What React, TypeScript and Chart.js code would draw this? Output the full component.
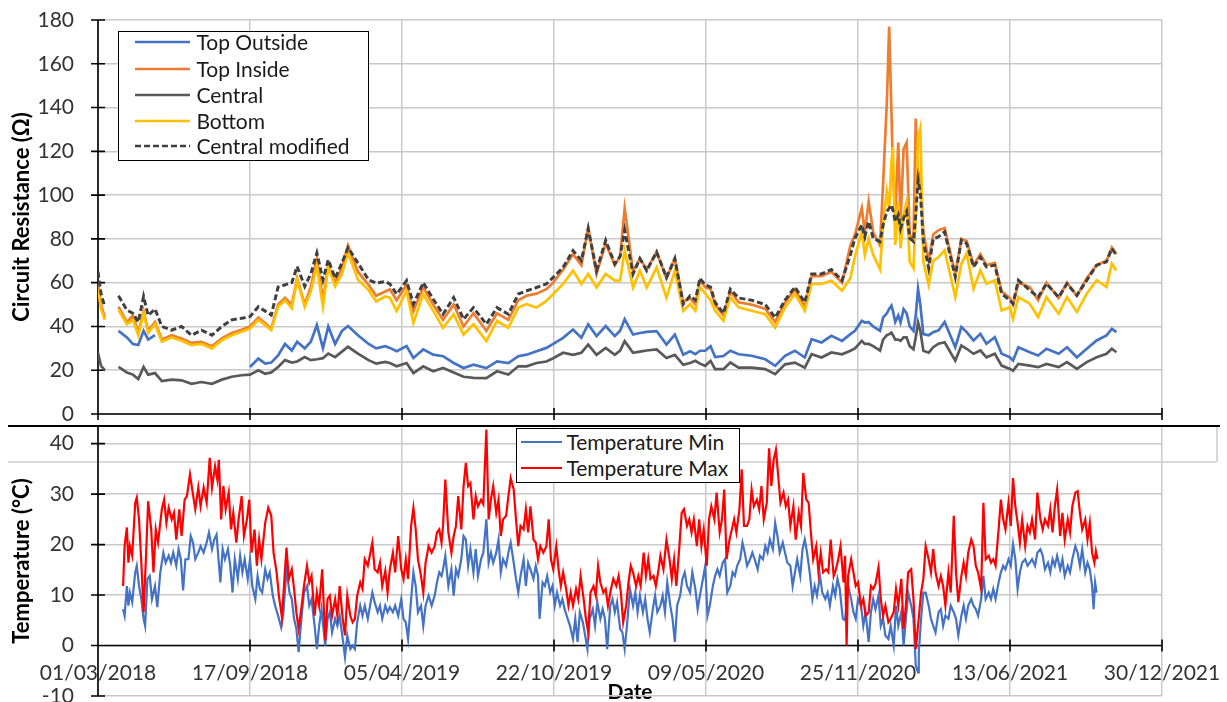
import React, { useEffect, useRef } from "react";
import { Chart, registerables } from "chart.js";

Chart.register(...registerables);

const FONT = "Lato, 'Noto Sans', sans-serif";
const GRID = "#c9c9c9";
const TICK_COLOR = "#333333";

// x axis: days since 01/03/2018, a tick every 200 days
const X_TICK_LABELS = [
  "01/03/2018", "17/09/2018", "05/04/2019", "22/10/2019",
  "09/05/2020", "25/11/2020", "13/06/2021", "30/12/2021",
];
const X_STEP_DAYS = 200;
const X_MAX_DAY = 1400;

// ---------- Circuit resistance (Ω) ----------
const resDays = [
  0, 4, 9, 18, 27, 38, 46, 53, 60, 66, 75, 84, 97, 110, 123, 136, 150, 163, 176, 189,
  200, 211, 220, 228, 237, 246, 255, 262, 272, 280, 288, 296, 303, 312, 321, 329, 342, 356, 366, 378,
  384, 393, 406, 415, 428, 441, 454, 468, 481, 494, 511, 525, 540, 553, 564, 577, 590, 599, 612, 625,
  636, 645, 656, 668, 680, 687, 693, 704, 713, 722, 735, 748, 759, 770,
  779, 786, 792, 799, 806, 812, 823, 832, 843, 860, 878, 891, 904, 917, 930, 939, 952, 965, 979, 990,
  996, 1005, 1009, 1014, 1020, 1029, 1033, 1038, 1041, 1044, 1046, 1049, 1053, 1056, 1060, 1064, 1068, 1073, 1076, 1079,
  1082, 1086, 1093,
  1099, 1106, 1114, 1128, 1136, 1143, 1152, 1161, 1169, 1180, 1189, 1200, 1204, 1211, 1226, 1237, 1248, 1264, 1275, 1288,
  1301, 1314, 1327, 1334, 1340,
];

const topOutside = [
  null, null, null, null, 38, 35, 32, 31.5, 38, 34, 36, null, null, null, null, null, null, null, null, null,
  21.5, 25.3, 23, 23.5, 26.8, 32, 29, 33, 30, 33, 40.6, 30, 40, 32, 38, 40.2, 36, 32, 30, 31,
  30.2, 28.7, 31, 25.6, 29.5, 27.1, 26.4, 23.3, 21, 22.5, 21, 24, 23.3, 26.4, 27.1, 28.7, 30.2, 32, 34.8, 38.6,
  34.8, 41, 35.6, 40.2, 35.6, 38, 43.3, 36.3, 37, 37.5, 37.9, 31.7, 36.3, 27.1,
  28.7, 27.3, 28.9, 28.9, 31, 26, 26.5, 28.9, 27.3, 26.6, 25, 22, 26.6, 28.9, 25.8, 34.2, 32.7, 35.7, 33.4, 36.5,
  38, 42.6, 41.8, 42, 40, 38, 44, 46, 48, 49.5, 47, 42, 45, 41.8, 47.9, 46, 40, 38, 45, 57.1,
  50, 36.5, 36,
  37.4, 38.2, 42, 30.5, 39.7, 37.4, 33.6, 36.6, 32.1, 35.1, 27.5, 25.9, 24.4, 30.5, 28.2, 26.7, 29.8, 27.5, 30.5, 25.9,
  29.8, 33.6, 35.9, 38.9, 37.4,
];

const topInside = [
  60, 50, 44, null, 49, 42, 45, 37, 47, 38, 42, 34, 36, 34.5, 32.5, 33, 31, 34.5, 37, 38.5,
  40, 44, 41.5, 39, 50, 53, 50, 62, 50, 58, 71, 52, 68, 60, 67, 77, 65, 59, 54, 56,
  57, 52, 59, 47, 58, 50, 43, 50, 40, 46, 38, 46, 43, 52, 54, 55, 57, 60, 66, 73,
  68, 85, 64, 78, 68, 72, 94, 65, 71, 66, 74, 62, 71, 51,
  53, 50, 61, 58, 57, 50, 45, 56, 51, 50, 48, 42, 51, 57, 49, 63, 63, 65, 60, 77,
  82, 94, 83, 97, 83, 77, 105, 143, 177, 138, 110, 91, 124, 88, 121, 124, 82, 79, 135, 106,
  110, 83, 70,
  82, 84, 85, 64, 80, 79, 68, 73, 68, 69, 56, 53, 50, 60, 58, 52, 60, 53, 60, 54,
  62, 68, 70, 76, 73,
];

const central = [
  28, 22, 20, null, 21.5, 19, 18, 16, 21.5, 18, 18.7, 15, 15.7, 15.4, 13.8, 14.6, 13.8, 15.7, 17, 17.7,
  18, 20, 18.4, 19, 21.5, 24.6, 23.5, 24, 26, 24.6, 25, 25.5, 27.6, 26, 28.5, 30.7, 27.6, 24.6, 23, 23.8,
  23.3, 21.8, 23.3, 18.7, 21.8, 19.5, 21, 19, 17, 16.5, 16.4, 19.5, 18, 21.8, 21.8, 23.3, 24, 25.5, 28, 27,
  28, 31.7, 27, 30.2, 27, 29, 33.3, 28, 28.5, 29, 29.5, 25.6, 27, 22.5,
  23.3, 24.3, 23, 22, 24.3, 20.5, 20.5, 23.5, 21.2, 21.2, 20.5, 18.2, 22.7, 23.5, 21.2, 27.3, 25.8, 28.1, 27.3, 28.9,
  30, 33.4, 32, 32, 31, 29, 34, 36, 36.5, 37.2, 36, 34, 34, 33.4, 35, 35, 31, 29.6, 35, 41.8,
  38, 28.9, 28,
  30.5, 32.1, 32.8, 24.4, 31.3, 29.8, 27.5, 29, 25.9, 27.5, 22.1, 20.6, 19.8, 22.9, 22.1, 21.4, 22.9, 21.4, 23.7, 20.6,
  23.7, 25.9, 27.5, 29.8, 28.2,
];

const bottom = [
  57, 48, 43, null, 47.5, 41, 43, 36, 46, 37, 41, 33, 35, 33.5, 31.5, 32, 30, 33.7, 36, 37.6,
  39, 43, 40.6, 38.3, 49, 52, 48.3, 61.3, 49, 56, 67.4, 49, 67.4, 58.3, 64, 73.6, 61.3, 56.7, 51.4, 53.7,
  53.2, 47.1, 56.3, 41.7, 54.8, 47.1, 39.4, 45.6, 36.3, 41, 33.3, 42.5, 39.4, 48.6, 50.2, 48.6, 51.7, 54.8, 59.4, 65.5,
  59.4, 64, 57.8, 64, 60.9, 61, 74.7, 57.8, 65.5, 57.8, 67, 53.2, 65.5, 47.1,
  50.2, 47.2, 57.9, 55, 52, 47.2, 42.6, 53.3, 48.7, 47.2, 45.6, 39.5, 48.7, 54.8, 47.2, 59.4, 59.4, 60.9, 56.3, 62,
  72, 83.3, 72.7, 80, 72.7, 66, 86.4, 101.6, 94, 115, 122, 77.2, 97, 75.7, 91, 97, 69.6, 66.6, 91, 126,
  130.5, 69.6, 59,
  70, 71.7, 74.8, 53.4, 68.7, 73.3, 57.2, 65.6, 59.5, 61.1, 47.3, 48.8, 43.5, 53.4, 50.4, 44.3, 53.4, 45.8, 53.4, 46.6,
  55, 61.1, 58, 68.7, 65.6,
];

const centralModified = [
  65, 55, 49, null, 54, 47.5, 46, 42, 53.7, 45, 48, 40, 38.3, 40, 36, 38.3, 36, 40, 43, 43.7,
  44.5, 49, 47, 45.2, 58, 59, 60, 67.4, 58.3, 64, 73.6, 61.3, 70.5, 62, 69, 76, 69, 61.3, 59.8, 60.5,
  59.4, 54.8, 60.9, 50.2, 60, 52.5, 45.6, 53.2, 43.3, 48.6, 41, 48.6, 45.6, 54.8, 56.3, 57.8, 59.4, 62.4, 67, 74.7,
  70.1, 84.7, 65.5, 79.3, 68.6, 72, 84, 64, 71, 65.5, 74, 62.4, 71, 50.2,
  54, 52, 62, 59, 58, 51, 46, 57, 53, 52, 50, 44, 52, 58, 51, 64, 64, 66, 61, 72.7,
  80.3, 86.4, 81, 87.9, 80.3, 78.8, 86.4, 92.5, 94, 95.5, 93, 87.9, 91, 84.8, 89.4, 92.5, 80.3, 78.8, 91, 107,
  101.6, 78.8, 66.6,
  80, 81, 83.2, 62.6, 79.4, 77.9, 67.2, 71.7, 67.2, 68, 55, 51.9, 50.4, 61.1, 56.5, 53.4, 59.5, 53.4, 59.5, 54.2,
  61.1, 68, 69.5, 75.6, 72.5,
];

// ---------- Temperature (°C) ----------
const tMaxDays = [
  33, 35, 38, 40, 42, 45, 49, 51, 54, 57,
  60, 63, 66, 70, 73, 76, 79, 84, 87, 90,
  93, 97, 100, 103, 107, 110, 114, 117, 121, 124,
  128, 132, 135, 139, 143, 147, 150, 154, 157, 159,
  162, 165, 168, 172, 175, 178, 182, 185, 189, 192,
  196, 199, 202, 206, 209, 212, 215, 220, 224, 228,
  231, 235, 238, 242, 248, 251, 255, 258, 261, 264,
  268, 271, 275, 278, 281, 285, 288, 291, 295, 299,
  302, 305, 308, 312, 315, 318, 322, 325, 328, 332,
  335, 338, 341, 345, 348, 351, 355, 358, 361, 364,
  368, 371, 374, 378, 381, 384, 388, 391, 395, 399,
  402, 405, 408, 412, 415, 418, 421, 425, 428, 431,
  435, 439, 443, 446, 449, 452, 454, 457, 461, 465,
  468, 471, 474, 478, 481, 484, 487, 490, 494, 497,
  500, 504, 507, 511, 514, 517, 520, 524, 527, 530,
  533, 537, 540, 543, 547, 550, 553, 556, 560, 563,
  566, 569, 573, 576, 579, 582, 586, 590, 593, 596,
  599, 603, 606, 609, 612, 616, 619, 622, 625, 629,
  632, 635, 639, 642, 645, 648, 652, 655, 658, 661,
  665, 668, 671, 675, 678, 682, 685, 688, 691, 695,
  698, 701, 704, 708, 711, 714, 718, 721, 724, 727,
  731, 734, 737, 740, 744, 748, 752, 755, 758, 761,
  765, 768, 771, 775, 778, 781, 784, 788, 791, 794,
  797, 801, 804, 807, 811, 814, 818, 821, 824, 827,
  831, 834, 837, 840, 844, 847, 850, 854, 857, 860,
  863, 867, 870, 873, 876, 880, 883, 886, 889, 892,
  895, 898, 902, 905, 908, 911, 915, 918, 922, 925,
  928, 932, 935, 938, 941, 945, 948, 951, 954, 958,
  961, 964, 968, 971, 974, 977, 981, 983, 985, 987,
  991, 994, 997, 1000, 1004, 1007, 1010, 1014, 1017, 1020,
  1023, 1027, 1030, 1033, 1036, 1040, 1043, 1047, 1050, 1053,
  1057, 1060, 1063, 1066, 1070, 1073, 1076, 1079, 1083, 1086,
  1089, 1093, 1096, 1099, 1102, 1106, 1109, 1112, 1115, 1119,
  1122, 1126, 1129, 1132, 1136, 1139, 1142, 1145, 1149, 1152,
  1155, 1158, 1162, 1165, 1168, 1172, 1175, 1178, 1181, 1185,
  1188, 1191, 1194, 1198, 1201, 1204, 1207, 1210, 1213, 1216,
  1220, 1223, 1226, 1229, 1233, 1236, 1240, 1243, 1246, 1250,
  1253, 1256, 1259, 1262, 1266, 1269, 1272, 1276, 1279, 1282,
  1286, 1289, 1292, 1295, 1299, 1302, 1305, 1308, 1311, 1313,
  1315,
];
const tMax = [
  11.8, 19.7, 23.4, 16.4, 19.7, 17.8, 28.3, 29.3, 25, 16.4,
  6.6, 17.1, 28.6, 23, 14.5, 23, 20.4, 27, 28.9, 24.3,
  27.3, 25, 26.3, 21, 27, 21.7, 28.9, 29.6, 33.9, 30.9,
  27, 31.3, 27.6, 31.3, 28.3, 37.2, 31.3, 35.5, 32.9, 36.8,
  25, 31.6, 27, 30.3, 23, 26.3, 20.4, 25, 29.6, 21.7,
  25, 28.9, 18.4, 23, 15.8, 21, 17.1, 24.3, 27.3, 25.7,
  18.4, 14.5, 9.9, 5.6, 19.4, 13.2, 15.1, 11.2, 6.6, 3.3,
  7.9, 11.8, 15.8, 12.5, 13.8, 5.9, 10.5, 7.9, 15.1, 1,
  9.2, 9.9, 5.9, 9.2, 5.9, 11.8, 5.3, 2, 9.9, 5.9,
  4.6, 5.3, 9.9, 12.5, 11.2, 17.1, 15.8, 18.1, 20.4, 15.1,
  14.5, 16.4, 11.8, 14.8, 10.5, 15.1, 18.4, 14.5, 21.7, 15.1,
  13.2, 17.1, 13.2, 23.7, 27.3, 23, 17.1, 13.8, 10.5, 16.4,
  19.7, 18.4, 19.7, 22.4, 23, 20.4, 23.7, 32.9, 22.4, 18.4,
  21.7, 23.7, 29.6, 23, 31.6, 36.2, 31.6, 32.2, 25, 29.6,
  27.6, 28.9, 28, 42.8, 25, 28.9, 31.6, 26.3, 28.9, 21.7,
  25, 25.7, 29.6, 33.2, 30.9, 25, 19.7, 23.7, 23, 27,
  22.4, 27.6, 21, 20.4, 17.1, 19.7, 18.4, 19.7, 25, 17.1,
  15.1, 19.7, 15.1, 11.8, 14.5, 11.2, 7.9, 10.5, 7.9, 11.2,
  9.2, 13.8, 9.2, 5.3, 2.6, 10.5, 11.8, 9.9, 15.8, 12.5,
  10.5, 11.2, 7.9, 11.2, 13.2, 11.8, 13.8, 10.5, 4.6, 7.9,
  12.5, 15.8, 14.5, 11.8, 13.8, 11.8, 18.4, 13.8, 17.1, 13.2,
  13.8, 11.8, 14.5, 17.8, 15.1, 21, 17.1, 13.2, 17.1, 11.8,
  19.7, 26.3, 27, 23.7, 25, 22.4, 25, 19.7, 25, 19.7,
  23, 15.8, 25, 27.6, 25, 30.3, 22.4, 25, 30.9, 17.1,
  21, 23, 25, 22.4, 27, 34.9, 23.7, 23.7, 25, 30.9,
  27.6, 28.9, 27, 31.6, 25, 28.3, 39.1, 31.6, 36.8, 38.8,
  33.6, 28.3, 30.3, 27.6, 28.9, 23.7, 27.6, 21, 26.3, 23.7,
  34.2, 28.9, 28.3, 22.4, 17.1, 19.7, 14.5, 18.4, 14.5, 15.1,
  14.5, 21, 13.8, 15.1, 17.1, 19.7, 12.5, 17.8, 0, 13.8,
  17.1, 14.5, 11.8, 12.5, 7.9, 9.2, 5.9, 6.6, 11.8, 11.2,
  12.2, 15.5, 9.2, 5.9, 7.9, 4.6, 5.3, 6.6, 11.2, 7.9,
  13.2, 3.3, 7.9, 14.5, 15.1, 9.2, -0.7, 3.9, 10.5, 13.2,
  19.7, 17.1, 14.5, 19.1, 14.5, 11.8, 13.8, 11.8, 7.9, 14.5,
  10.5, 25.7, 14.5, 8.6, 13.8, 16.4, 13.8, 18.4, 21, 19.7,
  15.8, 14.5, 11.2, 28.3, 17.1, 17.8, 16.4, 17.1, 15.8, 23,
  28.9, 25, 23, 28.3, 23.7, 33.2, 27.6, 24.3, 20.4, 25,
  19.7, 23.7, 22.4, 25, 21, 30.3, 25, 23, 25, 23.7,
  27, 22.4, 27.6, 30.9, 21.7, 26.3, 21, 25, 22.4, 27.6,
  30.3, 30.6, 26.3, 23, 25, 21, 24.3, 18.4, 16.4, 18.7,
  17.1,
];

const tMinDays = [
  33, 35, 38, 40, 42, 45, 49, 51, 54, 57,
  60, 62, 65, 68, 71, 75, 78, 82, 86, 89,
  93, 96, 99, 103, 106, 109, 112, 115, 119, 122,
  125, 128, 132, 135, 139, 143, 146, 150, 153, 156,
  161, 164, 167, 171, 174, 177, 180, 184, 187, 190,
  193, 197, 200, 203, 207, 210, 213, 216, 220, 223,
  226, 230, 233, 237, 241, 244, 248, 252, 255, 258,
  261, 264, 268, 271, 275, 278, 281, 285, 288, 291,
  294, 299, 302, 305, 308, 312, 315, 318, 322, 325,
  328, 332, 335, 338, 341, 345, 348, 351, 355, 358,
  361, 364, 368, 371, 374, 378, 381, 384, 388, 391,
  395, 399, 402, 405, 408, 412, 415, 418, 421, 425,
  428, 431, 435, 439, 443, 446, 449, 452, 454, 457,
  461, 465, 468, 471, 474, 478, 481, 484, 487, 490,
  494, 497, 500, 504, 507, 511, 514, 517, 520, 524,
  527, 530, 533, 537, 540, 543, 547, 550, 553, 556,
  560, 563, 566, 569, 573, 576, 579, 581, 585, 588,
  591, 595, 598, 601, 604, 608, 611, 614, 618, 621,
  625, 628, 631, 634, 638, 641, 644, 647, 651, 654,
  657, 661, 664, 667, 670, 674, 677, 680, 683, 687,
  690, 693, 696, 700, 704, 707, 710, 713, 717, 720,
  723, 726, 730, 733, 736, 740, 743, 746, 749, 753,
  756, 759, 762, 766, 769, 772, 775, 779, 782, 786,
  789, 792, 796, 799, 802, 805, 809, 812, 815, 818,
  822, 825, 828, 832, 835, 838, 841, 845, 848, 851,
  854, 858, 861, 864, 868, 871, 875, 878, 881, 884,
  888, 891, 894, 897, 901, 904, 907, 911, 914, 917,
  920, 924, 927, 930, 933, 937, 940, 943, 946, 950,
  953, 957, 960, 963, 967, 970, 973, 976, 980, 983,
  987, 991, 994, 997, 1000, 1004, 1007, 1010, 1014, 1017,
  1020, 1023, 1027, 1030, 1033, 1036, 1040, 1043, 1047, 1050,
  1053, 1057, 1060, 1063, 1066, 1070, 1073, 1076, 1079, 1080,
  1083, 1086, 1089, 1093, 1096, 1099, 1102, 1106, 1109, 1112,
  1115, 1119, 1122, 1126, 1129, 1132, 1136, 1139, 1142, 1145,
  1149, 1152, 1155, 1158, 1162, 1165, 1168, 1172, 1175, 1178,
  1181, 1185, 1188, 1191, 1194, 1198, 1201, 1204, 1207, 1210,
  1213, 1216, 1220, 1223, 1226, 1229, 1233, 1236, 1240, 1243,
  1246, 1250, 1253, 1256, 1259, 1262, 1266, 1269, 1272, 1276,
  1279, 1282, 1286, 1289, 1292, 1295, 1299, 1302, 1305, 1308,
  1310, 1312, 1314,
];
const tMin = [
  7.2, 5.9, 11.8, 7.9, 10.5, 8.6, 14.5, 15.8, 11.8, 9.2,
  5.3, 3.9, 13.2, 13.8, 9.2, 11.8, 7.6, 14.5, 18.4, 16.4,
  17.8, 16.4, 18.4, 15.8, 19.1, 17.1, 10.9, 17.1, 17.1, 21.7,
  20.4, 17.1, 18.4, 19.7, 18.4, 20.4, 22.4, 19.1, 21, 22,
  12.5, 19.1, 17.1, 19.1, 15.8, 10.5, 17.1, 13.2, 17.8, 14.5,
  17.1, 13.2, 17.1, 11.8, 9.2, 13.8, 11.2, 10.5, 15.1, 13.2,
  14.5, 9.9, 7.9, 5.9, 3.6, 6.6, 15.1, 10.5, 9.2, 5.3,
  3.3, -1.3, 5.9, 10.5, 11.8, 7.9, 9.2, 3.9, -0.7, 3.9,
  7.2, 0, 5.3, 6.6, 2.6, 5.3, 3.9, 5.9, 1.3, -2.3,
  2, -0.7, 0, -0.7, 4.6, 7.9, 5.9, 7.9, 5.3, 7.9,
  10.5, 8.6, 6.6, 7.9, 5.3, 7.9, 6.6, 7.6, 6.6, 7.9,
  5.9, 9.2, 5.3, 4.6, 1.3, 9.2, 14.5, 11.8, 6.6, 7.9,
  3.9, 7.9, 9.9, 7.9, 9.9, 12.5, 14.5, 13.8, 15.1, 17.8,
  11.8, 15.1, 9.9, 15.1, 13.8, 17.1, 21.7, 21, 15.8, 19.1,
  14.5, 19.1, 13.8, 17.1, 18.4, 25, 16.4, 18.4, 16.4, 18.4,
  21, 14.5, 17.1, 15.8, 18.4, 20.4, 16.4, 13.2, 10.5, 13.8,
  17.1, 11.8, 16.4, 15.1, 13.2, 15.8, 13.8, 5.3, 12.5, 11.8,
  13.8, 10.5, 11.8, 7.9, 10.5, 7.9, 9.2, 7.2, 5.3, 3.9,
  1.3, 5.3, 0.7, 6.6, 4.6, 2, -0.7, 5.3, 7.2, 3.9,
  8.6, 5.3, 7.2, 5.3, -0.7, 7.9, 9.2, 6.6, 8.6, 3.3,
  2.6, -0.7, 3.9, 11.2, 7.9, 10.5, 6.6, 9.9, 6.6, 9.2,
  5.3, 2.6, 7.2, 9.9, 6.6, 7.9, 9.9, 6.6, 12.5, 7.9,
  5.3, 0.7, 7.9, 9.9, 13.2, 14.5, 11.8, 10.5, 14.5, 11.2,
  7.2, 9.9, 13.2, 15.8, 5.9, 7.9, 11.8, 13.8, 15.1, 13.8,
  16.4, 17.1, 10.5, 11.8, 14.5, 13.8, 15.8, 17.1, 20.4, 18.4,
  15.8, 17.1, 18.4, 17.1, 15.1, 17.8, 17.1, 19.7, 18.4, 21,
  19.1, 24.3, 21.7, 18.4, 20.4, 18.4, 16.4, 15.8, 11.8, 14.5,
  17.1, 13.8, 19.1, 21, 18.4, 13.8, 9.2, 11.8, 9.9, 13.8,
  10.5, 9.2, 10.5, 7.9, 11.8, 9.9, 13.2, 11.2, 5.3, 5,
  11.8, 9.2, 6.6, 5.3, 9.2, 7.9, 3.9, 6.6, 0.7, 6.6,
  9.2, 7.2, 9.9, 3.9, 5.3, 2, 1.3, 3.9, 0, 7.9,
  3.9, 6.6, 0, 5.3, 10.5, 7.9, 5.3, -4, -5.3, -1.3,
  5.3, 10.5, 10.5, 7.9, 5.3, 3.9, 2.6, 6.6, 7.2, 3.9,
  5.9, 5.3, 7.9, 6.6, 5.3, 2, 5.9, 7.9, 5.3, 7.9,
  9.2, 7.9, 7.2, 5.9, 9.2, 13.8, 9.2, 10.5, 9.2, 11.2,
  9.2, 12.5, 14.5, 15.8, 15.1, 17.1, 15.8, 20.1, 17.1, 11.2,
  14.5, 16.4, 17.1, 15.8, 16.4, 17.1, 15.8, 18.4, 19.1, 17.8,
  15.1, 16.4, 14.5, 17.1, 15.8, 17.8, 15.1, 17.1, 13.8, 15.8,
  14.5, 17.1, 19.7, 18.4, 15.8, 19.1, 14.5, 16.4, 15.1, 11.8,
  7.2, 12.5, 10.5,
];

const toPoints = (days: number[], vals: (number | null)[]) =>
  days.slice(0, vals.length).map((d, i) => ({ x: d, y: vals[i] }));

const xTickLabel = (v: any) => X_TICK_LABELS[Math.round(Number(v) / X_STEP_DAYS)] ?? "";

// Excel-like axis lines with crossing tick marks (drawn from the scales' own ticks)
const crossTicks = {
  id: "crossTicks",
  beforeDatasetsDraw(chart: any) {
    const { ctx, chartArea, scales } = chart;
    const xs = scales.x;
    const ys = scales.y;
    const axisY = ys.getPixelForValue(0);
    ctx.save();
    ctx.strokeStyle = "#000";
    ctx.lineWidth = 1.6;
    ctx.beginPath();
    ctx.moveTo(chartArea.left, axisY);
    ctx.lineTo(chartArea.right, axisY);
    xs.ticks.forEach((t: any) => {
      const px = xs.getPixelForValue(t.value);
      ctx.moveTo(px, axisY - 6);
      ctx.lineTo(px, axisY + 6);
    });
    ctx.moveTo(chartArea.left, chartArea.top);
    ctx.lineTo(chartArea.left, chartArea.bottom);
    ys.ticks.forEach((t: any) => {
      const py = ys.getPixelForValue(t.value);
      ctx.moveTo(chartArea.left - 7, py);
      ctx.lineTo(chartArea.left + 7, py);
    });
    ctx.stroke();
    ctx.restore();
  },
};

const yAfterFit = (s: any) => {
  s.width = 98;
  s.paddingTop = 0;
  s.paddingBottom = 0;
};

function topConfig(): any {
  const line = (label: string, vals: (number | null)[], color: string, order: number, extra: any = {}) => ({
    label,
    data: toPoints(resDays, vals),
    borderColor: color,
    backgroundColor: color,
    borderWidth: 2.7,
    pointRadius: 0,
    tension: 0,
    spanGaps: false,
    order,
    ...extra,
  });
  return {
    type: "line",
    data: {
      datasets: [
        line("Top Outside", topOutside, "#4472C4", 5),
        line("Top Inside", topInside, "#ED7D31", 4),
        line("Central", central, "#595959", 3),
        line("Bottom", bottom, "#FFC000", 2),
        line("Central modified", centralModified, "#404040", 1, { borderDash: [6, 3], borderWidth: 3 }),
      ],
    },
    options: {
      animation: false,
      responsive: false,
      events: [],
      layout: { padding: { top: 20, right: 65, bottom: 0, left: 0 } },
      plugins: { legend: { display: false }, tooltip: { enabled: false } },
      scales: {
        x: {
          type: "linear",
          min: 0,
          max: X_MAX_DAY,
          position: "bottom",
          ticks: { display: false, stepSize: X_STEP_DAYS },
          grid: { color: GRID, lineWidth: 1.5, drawTicks: false },
          border: { display: false },
          afterFit: (s: any) => {
            s.height = 12;
            s.paddingLeft = 0;
            s.paddingRight = 0;
          },
        },
        y: {
          min: 0,
          max: 180,
          ticks: { stepSize: 20, padding: 24, color: TICK_COLOR, font: { family: FONT, size: 21 } },
          grid: { color: GRID, lineWidth: 1.5, drawTicks: false },
          border: { display: false },
          title: {
            display: true,
            text: "Circuit Resistance (Ω)",
            color: "#000",
            font: { family: FONT, size: 22, weight: "bold" },
            padding: { top: 9, bottom: 0 },
          },
          afterFit: yAfterFit,
        },
      },
    },
    plugins: [crossTicks],
  };
}

function bottomConfig(): any {
  return {
    type: "line",
    data: {
      datasets: [
        {
          label: "Temperature Min",
          data: toPoints(tMinDays, tMin),
          borderColor: "#4472C4",
          backgroundColor: "#4472C4",
          borderWidth: 2.2,
          pointRadius: 0,
          order: 2,
        },
        {
          label: "Temperature Max",
          data: toPoints(tMaxDays, tMax),
          borderColor: "#FF0000",
          backgroundColor: "#FF0000",
          borderWidth: 2.2,
          pointRadius: 0,
          order: 1,
        },
      ],
    },
    options: {
      animation: false,
      responsive: false,
      events: [],
      layout: { padding: { top: 0, right: 65, bottom: 6, left: 0 } },
      plugins: { legend: { display: false }, tooltip: { enabled: false } },
      scales: {
        x: {
          type: "linear",
          min: 0,
          max: X_MAX_DAY,
          position: { y: 0 },
          ticks: {
            stepSize: X_STEP_DAYS,
            padding: 15,
            maxRotation: 0,
            autoSkip: false,
            color: TICK_COLOR,
            font: { family: FONT, size: 21 },
            callback: xTickLabel,
          },
          grid: { color: GRID, lineWidth: 1.5, drawTicks: false },
          border: { display: false },
          title: {
            display: true,
            text: "Date",
            color: "#000",
            font: { family: FONT, size: 21, weight: "bold" },
            padding: 0,
          },
          afterFit: (s: any) => {
            s.height = 59;
            s.paddingLeft = 0;
            s.paddingRight = 0;
          },
        },
        y: {
          min: -10,
          max: 43.5,
          ticks: {
            stepSize: 10,
            includeBounds: false,
            padding: 24,
            color: TICK_COLOR,
            font: { family: FONT, size: 21 },
          },
          grid: { color: GRID, lineWidth: 1.5, drawTicks: false },
          border: { display: false },
          title: {
            display: true,
            text: "Temperature (°C)",
            color: "#000",
            font: { family: FONT, size: 22, weight: "bold" },
            padding: { top: 9, bottom: 0 },
          },
          afterFit: yAfterFit,
        },
      },
    },
    plugins: [crossTicks],
  };
}

type LegendItem = { label: string; color: string; width: number; dashed?: boolean };

function Legend(props: {
  left: number;
  top: number;
  width: number;
  height: number;
  items: LegendItem[];
  rowCenters: number[];
  lineX1: number;
  lineX2: number;
  textX: number;
  fontSize: number;
}) {
  const { left, top, width, height, items, rowCenters, lineX1, lineX2, textX, fontSize } = props;
  const rowH = 28;
  return (
    <div
      style={{
        position: "absolute",
        left,
        top,
        width,
        height,
        boxSizing: "border-box",
        border: "1.6px solid #000",
        background: "#fff",
        fontFamily: FONT,
        fontSize,
        color: "#1a1a1a",
      }}
    >
      {items.map((it, i) => (
        <div
          key={it.label}
          style={{ position: "absolute", left: 0, top: rowCenters[i] - rowH / 2 - 1.6, height: rowH, width: "100%" }}
        >
          <svg
            width={lineX2 - lineX1}
            height={rowH}
            style={{ position: "absolute", left: lineX1 - 1.6, top: 0 }}
          >
            <line
              x1={0}
              y1={rowH / 2}
              x2={lineX2 - lineX1}
              y2={rowH / 2}
              stroke={it.color}
              strokeWidth={it.width}
              strokeDasharray={it.dashed ? "6 3" : undefined}
            />
          </svg>
          <span
            style={{
              position: "absolute",
              left: textX - 1.6,
              top: 0,
              lineHeight: `${rowH}px`,
              whiteSpace: "nowrap",
            }}
          >
            {it.label}
          </span>
        </div>
      ))}
    </div>
  );
}

const resLegend: LegendItem[] = [
  { label: "Top Outside", color: "#4472C4", width: 2.7 },
  { label: "Top Inside", color: "#ED7D31", width: 2.7 },
  { label: "Central", color: "#595959", width: 2.7 },
  { label: "Bottom", color: "#FFC000", width: 2.7 },
  { label: "Central modified", color: "#404040", width: 2.7, dashed: true },
];
const tempLegend: LegendItem[] = [
  { label: "Temperature Min", color: "#4472C4", width: 2.2 },
  { label: "Temperature Max", color: "#FF0000", width: 2.2 },
];

export default function App() {
  const topRef = useRef<HTMLCanvasElement>(null);
  const botRef = useRef<HTMLCanvasElement>(null);

  useEffect(() => {
    const top = new Chart(topRef.current as HTMLCanvasElement, topConfig());
    const bot = new Chart(botRef.current as HTMLCanvasElement, bottomConfig());
    return () => {
      top.destroy();
      bot.destroy();
    };
  }, []);

  return (
    <div
      style={{
        position: "absolute",
        left: 0,
        top: 0,
        width: 1227,
        height: 702,
        overflow: "hidden",
        background: "#fff",
      }}
    >
      {/* faint frame of the lower panel's header band */}
      <div style={{ position: "absolute", left: 8, top: 461, width: 1209, height: 1.5, background: "#d9d9d9" }} />
      <div style={{ position: "absolute", left: 1216, top: 426, width: 1.5, height: 36, background: "#d9d9d9" }} />
      <canvas
        ref={topRef}
        width={1227}
        height={426}
        style={{ position: "absolute", left: 0, top: 0, width: 1227, height: 426 }}
      />
      <canvas
        ref={botRef}
        width={1227}
        height={276}
        style={{ position: "absolute", left: 0, top: 426, width: 1227, height: 276 }}
      />
      <div style={{ position: "absolute", left: 8, top: 425, width: 1212, height: 2, background: "#000" }} />
      <Legend
        left={118}
        top={31}
        width={251}
        height={130}
        items={resLegend}
        rowCenters={[12, 39, 65, 91, 116]}
        lineX1={18}
        lineX2={73}
        textX={79}
        fontSize={21}
      />
      <Legend
        left={516}
        top={428}
        width={224}
        height={55}
        items={tempLegend}
        rowCenters={[15, 41]}
        lineX1={6}
        lineX2={47}
        textX={51}
        fontSize={21}
      />
    </div>
  );
}
